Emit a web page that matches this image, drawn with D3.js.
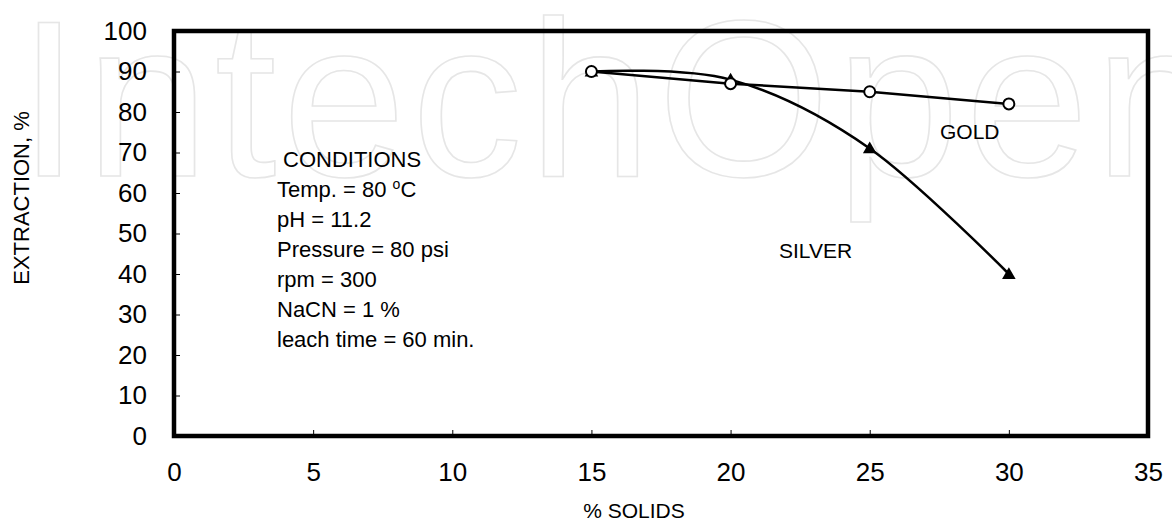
<!DOCTYPE html>
<html>
<head>
<meta charset="utf-8">
<script src="https://cdn.jsdelivr.net/npm/d3@7"></script>
<style>
  body { margin: 0; background: #fff; }
  svg text { font-family: "Liberation Sans", Arial, sans-serif; fill: #000; }
</style>
</head>
<body>
<div id="chart"></div>
<script>
const solids = [15, 20, 25, 30];
const gold = [90, 87, 85, 82];
const silver = [90, 88, 71, 40];
const xTicks = [0, 5, 10, 15, 20, 25, 30, 35];
const yTicks = [0, 10, 20, 30, 40, 50, 60, 70, 80, 90, 100];
const conditions = ["pH = 11.2", "Pressure = 80 psi", "rpm = 300", "NaCN = 1 %", "leach time = 60 min."];

const W = 1172, H = 522;
const box = { left: 174, right: 1148, top: 31, bottom: 436 };

const svg = d3.select("#chart").append("svg")
    .attr("width", W)
    .attr("height", H);

// faint watermark behind everything
svg.append("text")
    .attr("x", 18)
    .attr("y", 176)
    .attr("textLength", 1200)
    .attr("lengthAdjust", "spacing")
    .style("font-size", "222px")
    .style("fill", "none")
    .style("stroke", "#e6e6e6")
    .style("stroke-width", 1.6)
    .text("IntechOpen");

const x = d3.scaleLinear().domain([0, 35]).range([box.left, box.right]);
const y = d3.scaleLinear().domain([0, 100]).range([box.bottom, box.top]);

// axes: ticks point inward
const yAxis = svg.append("g")
    .attr("transform", `translate(${box.left},0)`)
    .call(d3.axisLeft(y).tickValues(yTicks).tickSize(-6).tickPadding(27));
const xAxis = svg.append("g")
    .attr("transform", `translate(0,${box.bottom})`)
    .call(d3.axisBottom(x).tickValues(xTicks).tickSize(-6).tickPadding(27));

[yAxis, xAxis].forEach(g => {
    g.select(".domain").remove();
    g.selectAll(".tick line").attr("stroke", "#000").attr("stroke-width", 1);
    g.selectAll(".tick text")
        .style("font-size", "26px")
        .style("font-family", "'Liberation Sans', Arial, sans-serif");
});

// plot frame
svg.append("rect")
    .attr("x", box.left)
    .attr("y", box.top)
    .attr("width", box.right - box.left)
    .attr("height", box.bottom - box.top)
    .attr("fill", "none")
    .attr("stroke", "#000")
    .attr("stroke-width", 4.5);

// axis titles
svg.append("text")
    .attr("x", 634)
    .attr("y", 518)
    .attr("text-anchor", "middle")
    .style("font-size", "21px")
    .text("% SOLIDS");

svg.append("text")
    .attr("transform", "translate(29,198) rotate(-90)")
    .attr("text-anchor", "middle")
    .style("font-size", "22px")
    .text("EXTRACTION, %");

// silver: smoothed line with filled triangles
const silverPts = solids.map((s, i) => [s, silver[i]]);
const goldPts = solids.map((s, i) => [s, gold[i]]);

svg.append("path")
    .datum(silverPts)
    .attr("fill", "none")
    .attr("stroke", "#000")
    .attr("stroke-width", 2.5)
    .attr("d", d3.line().x(d => x(d[0])).y(d => y(d[1])).curve(d3.curveCardinal.tension(0)));

svg.selectAll("path.silver")
    .data(silverPts)
    .join("path")
    .attr("class", "silver")
    .attr("transform", d => `translate(${x(d[0])},${y(d[1]) + 1})`)
    .attr("d", d3.symbol(d3.symbolTriangle, 80)())
    .attr("fill", "#000");

// gold: straight segments with open circles
svg.append("path")
    .datum(goldPts)
    .attr("fill", "none")
    .attr("stroke", "#000")
    .attr("stroke-width", 2.5)
    .attr("d", d3.line().x(d => x(d[0])).y(d => y(d[1])));

svg.selectAll("circle.gold")
    .data(goldPts)
    .join("circle")
    .attr("class", "gold")
    .attr("cx", d => x(d[0]))
    .attr("cy", d => y(d[1]))
    .attr("r", 5.5)
    .attr("fill", "#fff")
    .attr("stroke", "#000")
    .attr("stroke-width", 2);

// series labels
svg.append("text")
    .attr("x", 940)
    .attr("y", 139)
    .style("font-size", "21px")
    .text("GOLD");

svg.append("text")
    .attr("x", 779)
    .attr("y", 258)
    .style("font-size", "21px")
    .text("SILVER");

// conditions block
svg.append("text")
    .attr("x", 283)
    .attr("y", 167)
    .style("font-size", "22px")
    .text("CONDITIONS");

const temp = svg.append("text")
    .attr("x", 277)
    .attr("y", 197)
    .style("font-size", "22px");
temp.append("tspan").text("Temp. = 80 ");
temp.append("tspan").attr("dy", -8).style("font-size", "14px").text("o");
temp.append("tspan").attr("dy", 8).text("C");

svg.selectAll("text.cond")
    .data(conditions)
    .join("text")
    .attr("class", "cond")
    .attr("x", 277)
    .attr("y", (d, i) => 227 + i * 30)
    .style("font-size", "22px")
    .text(d => d);
</script>
</body>
</html>
